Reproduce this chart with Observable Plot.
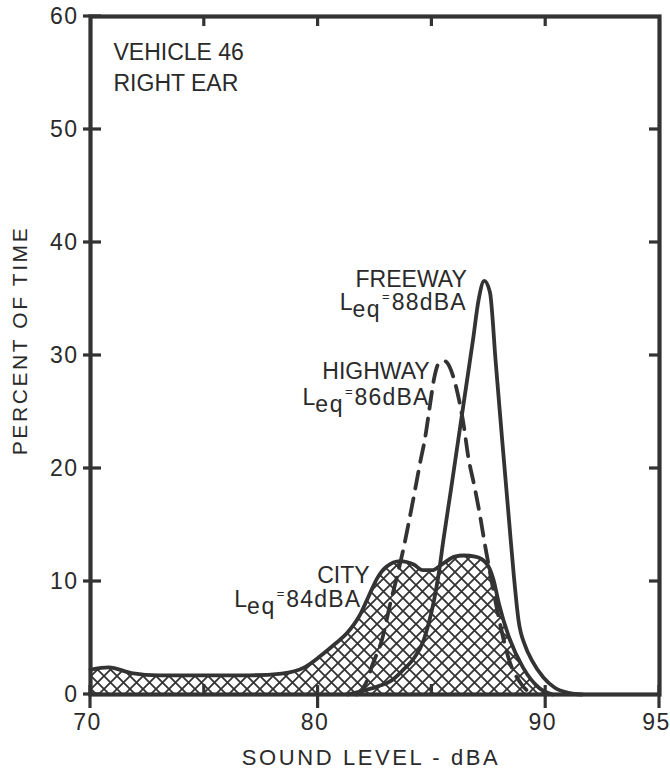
<!DOCTYPE html>
<html>
<head>
<meta charset="utf-8">
<script src="https://cdn.jsdelivr.net/npm/d3@7"></script>
<script src="https://cdn.jsdelivr.net/npm/@observablehq/plot@0.6"></script>
<style>
  html, body { margin: 0; padding: 0; background: #fff; }
  #chart { width: 670px; height: 770px; position: relative; }
  #chart svg { font-family: "Liberation Sans", Arial, Helvetica, sans-serif; color: #2e2e2e; background: #fff; }
</style>
</head>
<body>
<div id="chart"></div>
<script>
// ---- Data ----
const cityX = [70, 70.8, 71.8, 73, 75, 77, 78.4, 79.4, 80.1, 80.7, 81.3, 81.8, 82.2, 82.6, 83.0, 83.6, 84.2, 84.6, 85.0, 85.5, 86.0, 86.4, 86.9, 87.4, 87.7, 87.95, 88.4, 89.0, 89.7, 90.3];
const cityY = [2.2, 2.4, 1.9, 1.7, 1.7, 1.7, 1.85, 2.4, 3.4, 4.4, 5.5, 6.9, 8.6, 10.3, 11.3, 11.8, 11.5, 11.0, 11.0, 11.6, 12.2, 12.3, 12.2, 11.6, 10.2, 8.0, 5.0, 2.4, 0.6, 0];

const highwayX = [81.7, 82.1, 82.4, 82.8, 83.2, 83.5, 83.76, 84.0, 84.25, 84.5, 84.7, 84.9, 85.1, 85.3, 85.56, 85.8, 86.0, 86.2, 86.4, 86.6, 86.85, 87.1, 87.3, 87.6, 88.0, 88.4, 88.9, 89.4];
const highwayY = [0, 1.0, 2.7, 4.8, 8.3, 10.7, 13.0, 15.4, 18.0, 20.7, 22.7, 25.4, 28.0, 29.3, 29.5, 28.9, 27.7, 26.0, 23.8, 21.0, 18.6, 16.0, 13.6, 10.3, 6.2, 3.0, 1.0, 0];

const freewayX = [81.3, 82.0, 82.6, 83.2, 83.7, 84.24, 84.6, 84.86, 85.1, 85.3, 85.5, 85.85, 86.17, 86.5, 86.8, 87.05, 87.3, 87.55, 87.8, 88.08, 88.39, 88.6, 88.81, 89.1, 89.4, 89.9, 90.4, 91.0, 91.6];
const freewayY = [0, 0.35, 0.7, 1.2, 2.1, 3.3, 4.6, 6.3, 8.4, 10.7, 13.6, 18.3, 22.7, 27.2, 31.3, 34.9, 36.6, 35.6, 29.5, 22.7, 15.4, 10.5, 6.5, 4.3, 3.0, 1.5, 0.6, 0.15, 0];

const xTickLabels = [70, 80, 90, 95];
const xMinorTicks = [75, 85];
const xTopTicks = [75, 80, 85, 90];
const yTickLabels = [0, 10, 20, 30, 40, 50, 60];
const yRightTicks = [10, 20, 30, 40, 50];

const labelText = ["FREEWAY", "Leq=88dBA", "HIGHWAY", "Leq=86dBA", "CITY", "Leq=84dBA"];
const labelX    = [86.53, 86.53, 84.90, 84.90, 82.26, 81.90];
const labelY    = [36.04, 34.0, 27.9, 25.6, 9.9, 7.7];

const titleLines = ["VEHICLE 46", "RIGHT EAR"];
const xTitle = "SOUND LEVEL - dBA";
const yTitle = "PERCENT OF TIME";

// ---- Layout ----
const W = 670, H = 770, mL = 90, mR = 11, mT = 16, mB = 76;
const xDomain = [70, 95], yDomain = [0, 60];
const fw = W - mL - mR, fh = H - mT - mB;
const ux = fw / (xDomain[1] - xDomain[0]);   // px per x unit
const uy = fh / (yDomain[1] - yDomain[0]);   // px per y unit
const ink = "#333";
const txt = "#2a2a2a";
const curve = "monotone-x";
const tw = 3.2; // tick thickness in px

// ---- Build tables ----
const city = cityX.map((x, i) => ({x, y: cityY[i]}));
const highway = highwayX.map((x, i) => ({x, y: highwayY[i]}));
const freeway = freewayX.map((x, i) => ({x, y: freewayY[i]}));
const labels = labelText.map((t, i) => ({t, x: labelX[i], y: labelY[i]}));

// tick marks as thin rectangles derived from the tick values (px lengths converted to data units)
const hx = tw / 2 / ux, hy = tw / 2 / uy;
const tickRects = [];
yTickLabels.forEach(v => tickRects.push({x1: xDomain[0] - 7 / ux, x2: xDomain[0] + 11 / ux, y1: v - hy, y2: v + hy}));
yRightTicks.forEach(v => tickRects.push({x1: xDomain[1] - 10 / ux, x2: xDomain[1], y1: v - hy, y2: v + hy}));
xTickLabels.forEach(v => tickRects.push({x1: v - hx, x2: v + hx, y1: yDomain[0] - 14 / uy, y2: yDomain[0] + 9 / uy}));
xMinorTicks.forEach(v => tickRects.push({x1: v - hx, x2: v + hx, y1: yDomain[0], y2: yDomain[0] + 10 / uy}));
xTopTicks.forEach(v => tickRects.push({x1: v - hx, x2: v + hx, y1: yDomain[1] - 10 / uy, y2: yDomain[1]}));

const svg = Plot.plot({
  width: W,
  height: H,
  marginLeft: mL,
  marginRight: mR,
  marginTop: mT,
  marginBottom: mB,
  x: {domain: xDomain, label: null},
  y: {domain: yDomain, label: null},
  marks: [
    Plot.areaY(city, {x: "x", y: "y", fill: "url(#xhatch)", curve}),
    Plot.line(city, {x: "x", y: "y", stroke: ink, strokeWidth: 3.8, curve}),
    Plot.line(freeway, {x: "x", y: "y", stroke: ink, strokeWidth: 3.8, curve}),
    Plot.line(highway, {x: "x", y: "y", stroke: ink, strokeWidth: 3.8, curve, strokeDasharray: "17,10"}),
    Plot.frame({stroke: ink, strokeWidth: 4.2}),
    // tick marks
    Plot.rect(tickRects, {x1: "x1", x2: "x2", y1: "y1", y2: "y2", fill: ink}),
    // tick labels
    Plot.axisY({anchor: "left", ticks: yTickLabels, tickSize: 0, tickPadding: 12, fontSize: 23, label: null, fill: txt}),
    Plot.axisX({anchor: "bottom", ticks: xTickLabels, tickSize: 0, tickPadding: 19, dx: -3, fontSize: 23, label: null, fill: txt}),
    // titles
    Plot.text([titleLines.join("\n")], {frameAnchor: "top-left", dx: 23, dy: 21, textAnchor: "start", lineAnchor: "top", fontSize: 23, lineHeight: 1.35, fill: txt}),
    Plot.text([yTitle], {frameAnchor: "left", dx: -70.5, dy: -15, rotate: -90, textAnchor: "middle", lineAnchor: "middle", fontSize: 21, fill: txt}),
    Plot.text([xTitle], {frameAnchor: "bottom", dx: -4, dy: 63, textAnchor: "middle", lineAnchor: "middle", fontSize: 22, fill: txt}),
    // curve annotations
    Plot.text(labels, {x: "x", y: "y", text: "t", textAnchor: "end", lineAnchor: "bottom", fontSize: 23, fill: txt})
  ]
});

const s = d3.select(svg);
s.insert("defs", ":first-child").html(
  `<pattern id="xhatch" patternUnits="userSpaceOnUse" width="13" height="13">
     <rect width="13" height="13" fill="#fff"/>
     <path d="M-1,-1 L14,14 M14,-1 L-1,14" stroke="#333" stroke-width="1.8" fill="none"/>
   </pattern>`
);

// letter spacing tweaks
s.selectAll("text").each(function () {
  const t = this.textContent;
  if (t === yTitle || t === xTitle) this.setAttribute("letter-spacing", "2.6");
  else if (/^\d+$/.test(t)) this.setAttribute("letter-spacing", "1.5");
});

// build L_eq subscripts
s.selectAll("text").each(function () {
  const m = /^Leq=(.*)$/.exec(this.textContent);
  if (!m) return;
  const sel = d3.select(this);
  sel.text(null);
  sel.append("tspan").text("L");
  sel.append("tspan").attr("dy", 7).attr("letter-spacing", 1.5).text("eq");
  sel.append("tspan").attr("dy", -16).attr("dx", 1).attr("font-size", 13).text("=");
  sel.append("tspan").attr("dy", 9).attr("dx", 2).attr("letter-spacing", 1.2).text(m[1]);
});

document.getElementById("chart").appendChild(svg);
</script>
</body>
</html>
